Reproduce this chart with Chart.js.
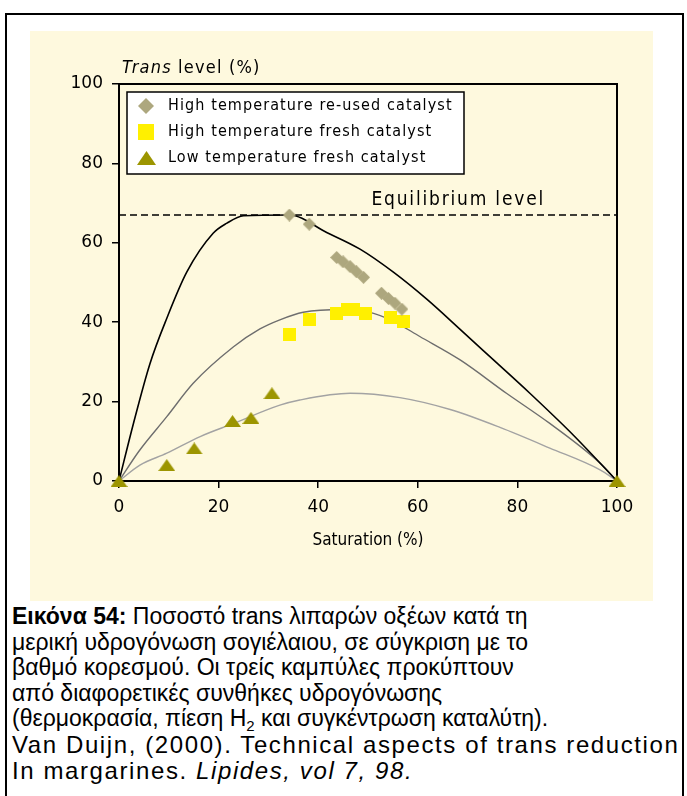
<!DOCTYPE html>
<html>
<head>
<meta charset="utf-8">
<script src="https://cdn.jsdelivr.net/npm/chart.js@4.4.1/dist/chart.umd.min.js"></script>
<style>
  body { margin: 0; background: #fff; }
  #frame { position: absolute; left: 5px; top: 13px; width: 675px; height: 800px; border: 2px solid #000; border-bottom: none; }
  #plot { position: absolute; left: 30px; top: 31px; background: #fef9de; }
  #caption { position: absolute; left: 12px; top: 604px; font-family: "Liberation Sans", Arial, sans-serif; font-size: 23px; line-height: 25.5px; color: #000; white-space: nowrap; }
  #caption sub { font-size: 15px; line-height: 0; vertical-align: baseline; position: relative; top: 5px; }
  #caption .latin { font-size: 24px; letter-spacing: 1.6px; }
</style>
</head>
<body>
<div id="frame"></div>
<canvas id="plot" width="623" height="570"></canvas>
<div id="caption">
<b>Εικόνα 54:</b> Ποσοστό trans λιπαρών οξέων κατά τη<br>
μερική υδρογόνωση σογιέλαιου, σε σύγκριση με το<br>
βαθμό κορεσμού. Οι τρείς καμπύλες προκύπτουν<br>
από διαφορετικές συνθήκες υδρογόνωσης<br>
(θερμοκρασία, πίεση H<sub>2</sub> και συγκέντρωση καταλύτη).<br>
<span class="latin">Van Duijn, (2000). Technical aspects of trans reduction</span><br>
<span class="latin">In margarines. <i>Lipides, vol 7, 98.</i></span>
</div>
<script>
document.addEventListener('DOMContentLoaded', function() {
    // axis ticks
    const xTicks = [0, 20, 40, 60, 80, 100];
    const yTicks = [0, 20, 40, 60, 80, 100];
    const equilibriumLevel = 67;

    // measured points
    const reusedSat   = [34.2, 38.2, 43.7, 45.0, 46.4, 47.7, 49.1, 52.7, 54.1, 55.4, 56.8];
    const reusedTrans = [67.0, 64.7, 56.3, 55.2, 54.0, 52.7, 51.3, 47.3, 46.0, 44.8, 43.3];
    const freshSat    = [34.3, 38.2, 43.7, 45.9, 47.1, 49.4, 54.5, 57.1];
    const freshTrans  = [36.8, 40.6, 42.2, 43.1, 43.1, 42.1, 41.2, 40.1];
    const lowSat      = [0, 9.6, 15.1, 22.8, 26.5, 30.7, 100];
    const lowTrans    = [0, 4.0, 8.2, 15.1, 15.9, 22.1, 0];

    // curves
    const curveHighSat   = [0, 2.9, 6.2, 9.6, 13.6, 18.9, 21.6, 25, 34.2, 41.7, 48.4, 55.1, 61.8, 68.5, 75.2, 82.5, 91.2, 100];
    const curveHighTrans = [0, 14.5, 29.5, 41.0, 52.6, 62.4, 64.9, 66.8, 67, 62.6, 58.4, 52.6, 45.8, 38.2, 30.5, 22.1, 11.6, 0];
    const curveMidSat    = [0, 4, 9.6, 14.9, 23, 28.3, 32.3, 37, 45, 50, 55, 60.4, 68.5, 77.8, 86.5, 96.6, 100];
    const curveMidTrans  = [0, 7.5, 16.2, 24.6, 33.8, 38.3, 40.6, 42.5, 43.2, 42.6, 40.3, 36.4, 30.5, 22.1, 14.5, 4.5, 0];
    const curveLowSat    = [0, 4.2, 9.6, 16.3, 23, 32.3, 36.3, 46.4, 56.4, 66.5, 76.5, 86.5, 96.6, 100];
    const curveLowTrans  = [0, 4.0, 7.0, 11.2, 14.5, 19.1, 20.4, 22.1, 21.0, 18.0, 13.5, 8.3, 2.8, 0];

    const fontFamily = '"DejaVu Sans Condensed", "DejaVu Sans", sans-serif';
    const tickFont = { family: '"DejaVu Sans", sans-serif', size: 17 };

    function pts(xs, ys) {
        return xs.map((x, i) => ({ x: x, y: ys[i] }));
    }

    // marker images: diamond, square, flat triangle
    function marker(kind, w, h, color) {
        const c = document.createElement('canvas');
        c.width = w;
        c.height = h;
        const g = c.getContext('2d');
        g.fillStyle = color;
        g.beginPath();
        if (kind === 'diamond') {
            g.moveTo(w / 2, 0); g.lineTo(w, h / 2); g.lineTo(w / 2, h); g.lineTo(0, h / 2);
        } else if (kind === 'triangle') {
            g.moveTo(w / 2, 0); g.lineTo(w, h); g.lineTo(0, h);
        } else {
            g.rect(0, 0, w, h);
        }
        g.closePath();
        g.fill();
        return c;
    }

    function curve(xs, ys, color, width) {
        return {
            data: pts(xs, ys),
            showLine: true,
            borderColor: color,
            borderWidth: width,
            pointRadius: 0,
            cubicInterpolationMode: 'monotone',
            clip: false
        };
    }

    // legend drawn inside the plot box
    const boxLegend = {
        id: 'boxLegend',
        afterDatasetsDraw(chart) {
            const ctx = chart.ctx;
            const area = chart.chartArea;
            const items = chart.data.datasets.filter(d => d.legendMarker);
            const bx = area.left + 8, by = area.top + 8, bw = 337, bh = 82;
            ctx.save();
            ctx.fillStyle = '#fff';
            ctx.fillRect(bx, by, bw, bh);
            ctx.strokeStyle = '#000';
            ctx.lineWidth = 1.5;
            ctx.strokeRect(bx, by, bw, bh);
            ctx.font = '16px ' + fontFamily;
            ctx.letterSpacing = '1.1px';
            ctx.textBaseline = 'middle';
            items.forEach((d, i) => {
                const cy = by + 13.5 + i * 26;
                const m = d.legendMarker;
                ctx.drawImage(m, Math.round(bx + 19 - m.width / 2), Math.round(cy - m.height / 2));
                ctx.fillStyle = '#000';
                ctx.fillText(d.label, bx + 41, cy);
            });
            ctx.restore();
        }
    };

    // frame, axis title and equilibrium label
    const extras = {
        id: 'extras',
        beforeDatasetsDraw(chart) {
            const ctx = chart.ctx;
            const area = chart.chartArea;
            ctx.save();
            ctx.strokeStyle = '#000';
            ctx.lineWidth = 2;
            ctx.beginPath();
            ctx.moveTo(area.left, area.top);
            ctx.lineTo(area.right, area.top);
            ctx.lineTo(area.right, area.bottom);
            ctx.stroke();
            ctx.restore();
        },
        afterDraw(chart) {
            const ctx = chart.ctx;
            const area = chart.chartArea;
            const yScale = chart.scales.y;
            ctx.save();
            ctx.fillStyle = '#000';
            ctx.textBaseline = 'middle';
            ctx.letterSpacing = '1.2px';
            ctx.font = 'italic 18px ' + fontFamily;
            ctx.fillText('Trans', area.left + 3, area.top - 16);
            const w = ctx.measureText('Trans ').width;
            ctx.font = '18px ' + fontFamily;
            ctx.fillText('level (%)', area.left + 3 + w, area.top - 16);
            ctx.font = '19px ' + fontFamily;
            ctx.letterSpacing = '1.8px';
            ctx.textAlign = 'right';
            ctx.fillText('Equilibrium level', area.right - 72, yScale.getPixelForValue(equilibriumLevel) - 15);
            ctx.restore();
        }
    };

    const ctx = document.getElementById('plot').getContext('2d');
    new Chart(ctx, {
        type: 'scatter',
        data: {
            datasets: [
                {
                    label: 'High temperature re-used catalyst',
                    data: pts(reusedSat, reusedTrans),
                    pointStyle: marker('diamond', 13, 13, '#ada77e'),
                    legendMarker: marker('diamond', 16, 16, '#ada77e'),
                    pointRadius: 6,
                    backgroundColor: '#ada77e',
                    borderWidth: 0,
                    clip: false
                },
                {
                    label: 'High temperature fresh catalyst',
                    data: pts(freshSat, freshTrans),
                    pointStyle: marker('square', 13, 13, '#fff000'),
                    legendMarker: marker('square', 16, 16, '#fff000'),
                    pointRadius: 6,
                    backgroundColor: '#fff000',
                    borderWidth: 0,
                    clip: false
                },
                {
                    label: 'Low temperature fresh catalyst',
                    data: pts(lowSat, lowTrans),
                    pointStyle: marker('triangle', 17, 12, '#9c9500'),
                    legendMarker: marker('triangle', 19, 14, '#9c9500'),
                    pointRadius: 6,
                    backgroundColor: '#9c9500',
                    borderWidth: 0,
                    clip: false
                },
                curve(curveHighSat, curveHighTrans, '#000', 1.6),
                curve(curveMidSat, curveMidTrans, '#6e6e6e', 1.4),
                curve(curveLowSat, curveLowTrans, '#a3a3a3', 1.4),
                {
                    data: pts([0, 100], [equilibriumLevel, equilibriumLevel]),
                    showLine: true,
                    borderColor: '#000',
                    borderWidth: 1.5,
                    borderDash: [7, 4],
                    pointRadius: 0
                }
            ]
        },
        options: {
            responsive: false,
            animation: false,
            devicePixelRatio: 1,
            layout: { padding: { top: 53, right: 36, left: 0, bottom: 50 } },
            plugins: {
                legend: { display: false },
                tooltip: { enabled: false }
            },
            scales: {
                x: {
                    type: 'linear',
                    min: 0,
                    max: 100,
                    afterBuildTicks: s => { s.ticks = xTicks.map(v => ({ value: v })); },
                    afterFit: s => { s.height = 70; },
                    ticks: { color: '#000', font: tickFont, padding: 9 },
                    grid: { drawOnChartArea: false, drawTicks: true, tickLength: 7, color: '#000', lineWidth: 1.5 },
                    border: { display: true, color: '#000', width: 2 },
                    title: { display: true, text: 'Saturation (%)', color: '#000', font: { family: fontFamily, size: 17 }, padding: { top: 0, bottom: 0 } }
                },
                y: {
                    type: 'linear',
                    min: 0,
                    max: 100,
                    afterBuildTicks: s => { s.ticks = yTicks.map(v => ({ value: v })); },
                    afterFit: s => { s.width = 89; },
                    ticks: { color: '#000', font: tickFont, padding: 9 },
                    grid: { drawOnChartArea: false, drawTicks: true, tickLength: 7, color: '#000', lineWidth: 1.5 },
                    border: { display: true, color: '#000', width: 2 }
                }
            }
        },
        plugins: [extras, boxLegend]
    });
});
</script>
</body>
</html>
